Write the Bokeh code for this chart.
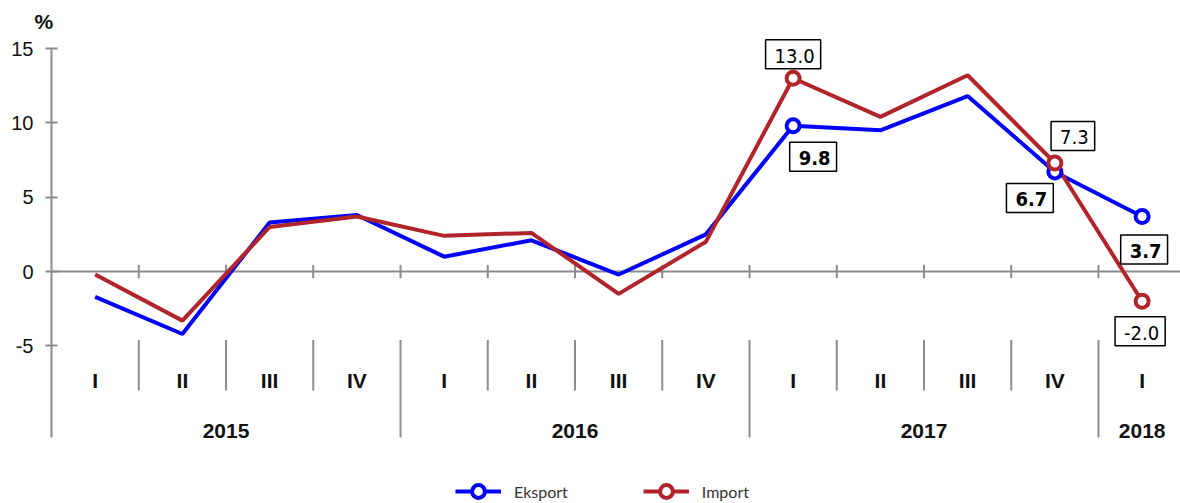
from bokeh.plotting import figure
from bokeh.models import (ColumnDataSource, Range1d, FixedTicker, Legend, LegendItem)
from bokeh.core.properties import value
from bokeh.embed import file_html
from bokeh.resources import INLINE

# ---------------- data ----------------
years = ["2015", "2016", "2017", "2018"]
quarters = ["I", "II", "III", "IV", "I", "II", "III", "IV", "I", "II", "III", "IV", "I"]
quarter_year = ["2015"] * 4 + ["2016"] * 4 + ["2017"] * 4 + ["2018"]
eksport = [-1.7, -4.2, 3.3, 3.8, 1.0, 2.1, -0.2, 2.5, 9.8, 9.5, 11.8, 6.7, 3.7]
import_ = [-0.2, -3.3, 3.0, 3.7, 2.4, 2.6, -1.5, 2.0, 13.0, 10.4, 13.2, 7.3, -2.0]
labeled_idx = [8, 11, 12]  # points with markers and value labels
y_ticks = [-5, 0, 5, 10, 15]
y_tick_labels = ["-5", "0", "5", "10", "15"]
y_min, y_max = -5, 15

BLUE = "#0000FF"
RED = "#B0242A"
GRAY = "#8C8C8C"

n = len(quarters)
xs = [i + 0.5 for i in range(n)]

PX_X = 87.25   # pixels per category
PX_Y = 14.87   # pixels per percent
TOP = 35       # frame top (px)
AX_TOP = 48    # pixel of the 15 tick
top_val = y_max + (AX_TOP - TOP) / PX_Y
y_lo = top_val - (503 - TOP) / PX_Y
axis_bottom = y_max - 389 / PX_Y

p = figure(width=1180, height=503, output_backend="svg", toolbar_location=None,
           x_range=Range1d(-2 / PX_X, (1180 - 51) / PX_X),
           y_range=Range1d(y_lo, top_val),
           x_axis_type=None, min_border_left=49, min_border_right=0,
           min_border_top=TOP, min_border_bottom=0,
           title="%")
p.outline_line_color = None
p.xgrid.visible = False
p.ygrid.visible = False
p.title.text_font = "Liberation Sans"
p.title.text_font_style = "bold"
p.title.text_font_size = "21px"
p.title.text_color = "#111111"
p.title.align = "left"
p.title.offset = -15
p.title.standoff = 6

ax = p.yaxis[0]
ax.ticker = FixedTicker(ticks=y_ticks)
ax.major_label_overrides = {t: s for t, s in zip(y_ticks, y_tick_labels)}
ax.minor_tick_line_color = None
ax.major_tick_in = 8
ax.major_tick_out = 4
ax.axis_line_color = None
ax.major_tick_line_color = GRAY
ax.major_tick_line_width = 2
ax.major_label_text_font = "Liberation Sans"
ax.major_label_text_font_size = "20px"
ax.major_label_text_color = "#111111"
ax.major_label_standoff = 12

# axis line and zero line
p.segment(x0=[0], x1=[0], y0=[axis_bottom], y1=[y_max], line_color=GRAY, line_width=2)
p.segment(x0=[0], x1=[n], y0=[0], y1=[0], line_color=GRAY, line_width=2)

# category separators
b_short = [k for k in range(1, n) if k % 4 != 0]
b_long = [k for k in range(1, n) if k % 4 == 0]
p.segment(x0=list(range(1, n)), x1=list(range(1, n)), y0=-0.45, y1=0.45,
          line_color=GRAY, line_width=2)
p.segment(x0=b_short, x1=b_short, y0=-4.6, y1=-8.0, line_color=GRAY, line_width=2)
p.segment(x0=b_long, x1=b_long, y0=-4.6, y1=axis_bottom, line_color=GRAY, line_width=2)

# category labels
p.text(x=xs, y=-7.33, text=quarters, text_align="center", text_baseline="middle",
       text_font=value("Liberation Sans"), text_font_style="bold",
       text_font_size="21px", text_color="#111111")
year_x = [sum(x for x, yy in zip(xs, quarter_year) if yy == y) /
          quarter_year.count(y) for y in years]
p.text(x=year_x, y=-10.75, text=years, text_align="center", text_baseline="middle",
       text_font=value("Liberation Sans"), text_font_style="bold",
       text_font_size="21px", text_color="#111111")

# lines
src = ColumnDataSource(dict(x=xs, e=eksport, m=import_))
le = p.line("x", "e", source=src, line_color=BLUE, line_width=4)
lm = p.line("x", "m", source=src, line_color=RED, line_width=4)

lab = ColumnDataSource(dict(
    x=[xs[i] for i in labeled_idx],
    e=[eksport[i] for i in labeled_idx],
    m=[import_[i] for i in labeled_idx],
    et=["%.1f" % eksport[i] for i in labeled_idx],
    mt=["%.1f" % import_[i] for i in labeled_idx],
    ex=[20, -25, 2], ey=[31, 26, 33],
    mx=[0, 18, -2], my=[-24, -27, 30],
))
se = p.scatter("x", "e", source=lab, size=13, line_width=4, line_color=BLUE,
               fill_color="white")
sm = p.scatter("x", "m", source=lab, size=13, line_width=4, line_color=RED,
               fill_color="white")

p.text("x", "e", text="et", source=lab, x_offset="ex", y_offset="ey",
       text_align="center", text_baseline="middle",
       text_font=value("DejaVu Sans Condensed"), text_font_style="bold",
       text_font_size="20px", text_color="black",
       background_fill_color="white", border_line_color="black",
       border_line_width=1.5, padding=[9, 6, 9, 6])
p.text("x", "m", text="mt", source=lab, x_offset="mx", y_offset="my",
       text_align="center", text_baseline="middle",
       text_font=value("DejaVu Sans Condensed"),
       text_font_size="20px", text_color="black",
       background_fill_color="white", border_line_color="black",
       border_line_width=1.5, padding=[9, 6, 9, 6])

legend = Legend(items=[LegendItem(label="Eksport", renderers=[le, se]),
                       LegendItem(label="Import", renderers=[lm, sm])],
                location=(406, -4), orientation="horizontal",
                glyph_width=46, glyph_height=32, label_standoff=13,
                spacing=75, padding=0, margin=0, border_line_color=None,
                background_fill_alpha=0,
                label_text_font="Lato", label_text_font_size="16px",
                label_text_color="#333333")
p.add_layout(legend, "center")

open("out.html", "w").write(file_html(p, INLINE))
